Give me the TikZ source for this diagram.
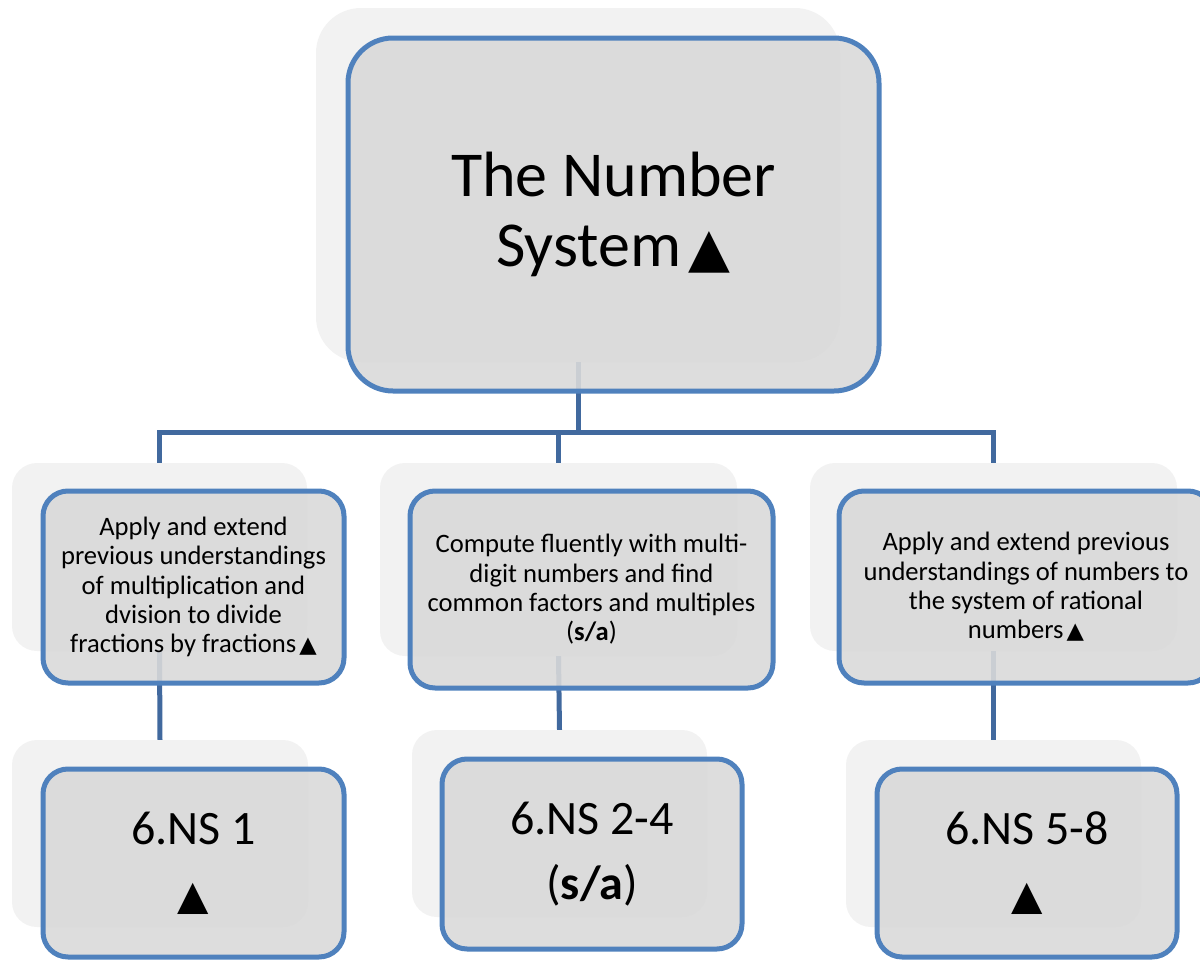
\documentclass[tikz,border=0pt]{standalone}
\usepackage{fontspec}
\setmainfont{Carlito}
\newfontfamily\symf{DejaVu Sans}[Scale=0.85]
\newcommand{\tri}{\hspace{0.12em}{\symf ▲}}
\definecolor{boxblue}{HTML}{4F81BD}
\definecolor{connblue}{HTML}{41699E}
\definecolor{boxgray}{HTML}{D9D9D9}
\definecolor{shadowgray}{HTML}{F2F2F2}
\begin{document}
\begin{tikzpicture}[x=1pt,y=-1pt,
  shadowbox/.style={fill=shadowgray, draw=none, inner sep=0pt, rounded corners=#1},
  mainbox/.style={fill=boxgray, fill opacity=0.9, text opacity=1, draw=boxblue, line width=5pt, inner sep=0pt, align=center, rounded corners=#1},
  conn/.style={draw=connblue, line width=5pt},
  lvlone/.style={font=\fontsize{64}{70}\selectfont},
  lvltwo/.style={font=\fontsize{26.6}{29.4}\selectfont},
  lvlthree/.style={font=\fontsize{48}{65}\selectfont}
]
\useasboundingbox (0,0) rectangle (1200,961);
% shadow boxes
\node[shadowbox=45pt, minimum width=524pt, minimum height=354pt] (s1) at (578,185) {};
\node[shadowbox=25pt, minimum width=295pt, minimum height=188pt] (s2a) at (159.5,557) {};
\node[shadowbox=25pt, minimum width=357pt, minimum height=193pt] (s2b) at (558.5,559.5) {};
\node[shadowbox=25pt, minimum width=367pt, minimum height=188pt] (s2c) at (993.5,557) {};
\node[shadowbox=25pt, minimum width=296pt, minimum height=187pt] (s3a) at (160,833.5) {};
\node[shadowbox=25pt, minimum width=295pt, minimum height=187pt] (s3b) at (559.5,823.5) {};
\node[shadowbox=25pt, minimum width=295pt, minimum height=187pt] (s3c) at (993.5,833.5) {};
% connectors
\coordinate (bus) at (578,432);
\draw[conn] (s1.south) -- (bus);
\draw[conn] (s2a.north) |- (bus) -| (s2c.north);
\draw[conn] (s2b.north) -- (s2b.north |- bus);
\draw[conn] (s2a.south) -- (s3a.north);
\draw[conn] (s2b.south) -- (s3b.north);
\draw[conn] (s2c.south) -- (s3c.north);
% main boxes
\node[mainbox=45pt, lvlone, minimum width=531pt, minimum height=353pt] (b1) at (613.5,214.5) {The Number\\System\tri};
\node[mainbox=25pt, lvltwo, minimum width=301pt, minimum height=192pt] (b2a) at (193.5,587) {Apply and extend\\previous understandings\\of multiplication and\\dvision to divide\\fractions by fractions\tri};
\node[mainbox=25pt, lvltwo, minimum width=363pt, minimum height=197pt] (b2b) at (591.5,589.5) {Compute fluently with multi-\\digit numbers and find\\common factors and multiples\\(\textbf{s/a})};
\node[mainbox=25pt, lvltwo, minimum width=374pt, minimum height=192pt] (b2c) at (1026,587) {Apply and extend previous\\understandings of numbers to\\the system of rational\\numbers\tri};
\node[mainbox=25pt, lvlthree, minimum width=301pt, minimum height=188pt] (b3a) at (193.5,863) {6.NS 1\\{\symf ▲}};
\node[mainbox=25pt, lvlthree, minimum width=300pt, minimum height=190pt] (b3b) at (592,854) {6.NS 2-4\\(\textbf{s/a})};
\node[mainbox=25pt, lvlthree, minimum width=300pt, minimum height=188pt] (b3c) at (1027,863) {6.NS 5-8\\{\symf ▲}};
\end{tikzpicture}
\end{document}
